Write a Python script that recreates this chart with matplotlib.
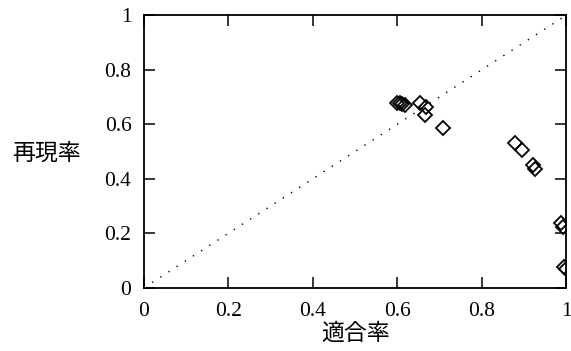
import numpy as np
import matplotlib.pyplot as plt

precision = [0.600, 0.606, 0.612, 0.618, 0.654, 0.668, 0.666, 0.708,
             0.878, 0.896, 0.922, 0.925, 0.986, 0.992, 0.995, 1.000]
recall = [0.678, 0.676, 0.673, 0.670, 0.678, 0.663, 0.634, 0.586,
          0.531, 0.505, 0.451, 0.434, 0.238, 0.224, 0.075, 0.070]
ticks = [0, 0.2, 0.4, 0.6, 0.8, 1]
tick_labels = ["0", "0.2", "0.4", "0.6", "0.8", "1"]

plt.rcParams["font.family"] = ["Liberation Serif", "Noto Sans CJK JP"]

fig = plt.figure(figsize=(5.71, 3.51), dpi=100)
ax = fig.add_axes([0.252, 0.18, 0.740, 0.777])

ax.plot([0, 1], [0, 1], color="black", lw=1.0, linestyle=(0, (1, 6)))
ax.plot(precision, recall, "D", mfc="none", mec="black", ms=7, mew=1.3)

ax.set_xlim(0, 1)
ax.set_ylim(0, 1)
ax.set_xticks(ticks)
ax.set_xticklabels(tick_labels)
ax.set_yticks(ticks)
ax.set_yticklabels(tick_labels)
ax.tick_params(direction="in", top=True, right=True, length=8, width=1.1,
               labelsize=15.5)
ax.tick_params(axis="x", pad=10)
ax.tick_params(axis="y", pad=9)
for s in ax.spines.values():
    s.set_linewidth(1.3)

ax.set_xlabel("適合率", family="Noto Sans CJK JP", fontsize=16.5, labelpad=1)
ax.set_ylabel("再現率", family="Noto Sans CJK JP", fontsize=16.5, rotation=0,
              ha="left", va="center")
ax.yaxis.set_label_coords(-0.312, 0.495)

fig.savefig("out.png")
